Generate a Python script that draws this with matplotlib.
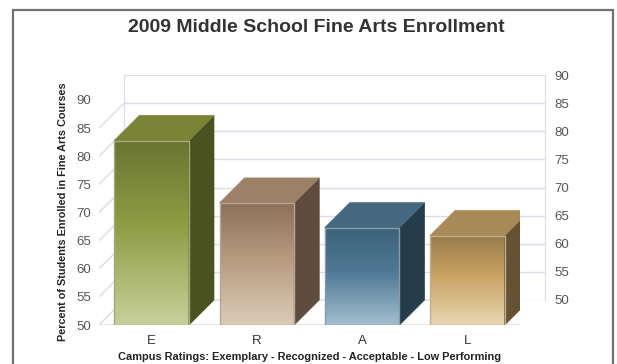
import numpy as np
import matplotlib
matplotlib.use('Agg')
import matplotlib.pyplot as plt
from matplotlib.colors import LinearSegmentedColormap, to_rgb
from matplotlib.patches import Polygon, Rectangle
from matplotlib.transforms import IdentityTransform

plt.rcParams['font.family'] = ['Liberation Sans', 'DejaVu Sans']

categories = ['E', 'R', 'A', 'L']
enrollment = [82.8, 71.7, 67.3, 65.9]
y_ticks = [50, 55, 60, 65, 70, 75, 80, 85, 90]

# front gradient (top, middle, bottom), top face, side face
front_stops = [('#6a7432', '#8e9c42', '#c7d09a'),
               ('#8c6f57', '#b59a7e', '#ddcbb7'),
               ('#3e6179', '#4d7893', '#a4bece'),
               ('#987a4b', '#c8a262', '#e9d7b3')]
top_cols = ['#7a8336', '#9c8167', '#44687f', '#a78a58']
side_cols = ['#4a521f', '#5e4d3c', '#253c4b', '#655232']

W, H = 617, 364
DX, DY = 25, 25          # depth of the 3-D box in pixels
GRID = '#dcdce6'

fig = plt.figure(figsize=(W / 100, H / 100), dpi=100)

# outer frame
fig.patches.append(Rectangle((13 / W, -0.1), 600 / W, 1.1 - 10 / H,
                             transform=fig.transFigure, fill=False,
                             ec='#707070', lw=1.6))

ax_w, ax_h = 421 / W, 225 / H
ax_back = fig.add_axes([124 / W, 1 - 300 / H, ax_w, ax_h])
ax = fig.add_axes([99 / W, 1 - 325 / H, ax_w, ax_h])

for a in (ax, ax_back):
    a.set_xlim(-0.5, 3.5)
    a.set_ylim(50, 90)
    a.set_yticks(y_ticks)

# back wall: grid + right-hand labels
ax_back.set_facecolor('white')
ax_back.set_xticks([])
ax_back.yaxis.tick_right()
ax_back.tick_params(axis='y', length=0, pad=7, labelsize=9.5,
                    labelcolor='#555555')
ax_back.grid(axis='y', color=GRID, lw=1)
for name, sp in ax_back.spines.items():
    sp.set_visible(name in ('left', 'right'))
    sp.set_color(GRID)

ax.patch.set_alpha(0)
for sp in ax.spines.values():
    sp.set_visible(False)
ax.set_xticks(range(len(categories)))
ax.set_xticklabels(categories)
ax.tick_params(axis='x', length=0, pad=7, labelsize=9.5, labelcolor='#333333')
ax.tick_params(axis='y', length=0, pad=6, labelsize=9.5, labelcolor='#555555')

fig.canvas.draw()
to_disp = ax.transData.transform


def poly(points, **kw):
    p = Polygon(points, closed=True, transform=IdentityTransform(), **kw)
    ax.add_artist(p)
    return p


# left wall diagonals and floor
for t in y_ticks:
    x0, y0 = to_disp((-0.5, t))
    ax.add_artist(plt.Line2D([x0, x0 + DX], [y0, y0 + DY], color=GRID,
                             lw=1, transform=IdentityTransform(), zorder=1))
fl, fb = to_disp((-0.5, 50))
fr, _ = to_disp((3.5, 50))
poly([(fl, fb), (fr, fb), (fr + DX, fb + DY), (fl + DX, fb + DY)],
     fc='white', ec=GRID, lw=1, zorder=1)

# bars
bw = 0.71
for i, (cat, v) in enumerate(zip(categories, enrollment)):
    x0, x1 = i - bw / 2, i + bw / 2
    (px0, pyb), (px1, pyt) = to_disp((x0, 50)), to_disp((x1, v))
    cmap = LinearSegmentedColormap.from_list(cat, [(0, front_stops[i][0]),
                                                   (0.45, front_stops[i][1]),
                                                   (1, front_stops[i][2])])
    grad = np.linspace(0, 1, 256)[:, None]   # row 0 = top of the bar
    ax.imshow(grad, cmap=cmap, extent=(x0, x1, 50, v), aspect='auto',
              origin='upper', zorder=3, interpolation='bicubic')
    edge = tuple(c * 0.82 for c in to_rgb(front_stops[i][2]))
    ax.add_patch(Rectangle((x0, 50), bw, v - 50, fill=False, ec=edge,
                           lw=1, zorder=4))
    poly([(px1, pyb), (px1 + DX, pyb + DY), (px1 + DX, pyt + DY), (px1, pyt)],
         fc=side_cols[i], ec=side_cols[i], lw=0.5, zorder=3)
    poly([(px0, pyt), (px1, pyt), (px1 + DX, pyt + DY), (px0 + DX, pyt + DY)],
         fc=top_cols[i], ec=top_cols[i], lw=0.5, zorder=3)

ax.set_xlim(-0.5, 3.5)
ax.set_ylim(50, 90)

fig.text(316 / W, 1 - 27 / H, '2009 Middle School Fine Arts Enrollment',
         ha='center', va='center', fontsize=14, fontweight='bold',
         color='#333333')
fig.text(63 / W, 1 - 212 / H,
         'Percent of Students Enrolled in Fine Arts Courses',
         rotation=90, ha='center', va='center', fontsize=7.8,
         fontweight='bold', color='#222222')
fig.text(310 / W, 1 - 357 / H,
         'Campus Ratings: Exemplary - Recognized - Acceptable - Low Performing',
         ha='center', va='center', fontsize=7.9, fontweight='bold',
         color='#222222')

fig.savefig('out.png', dpi=100)
